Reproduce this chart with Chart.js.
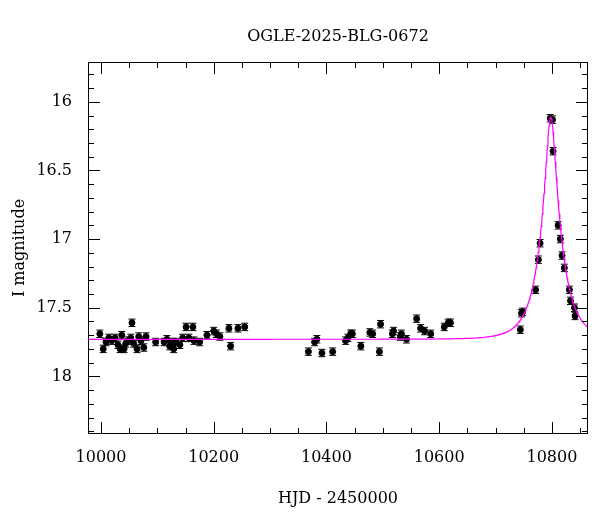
<!DOCTYPE html>
<html><head><meta charset="utf-8">
<script src="https://cdn.jsdelivr.net/npm/chart.js@4/dist/chart.umd.min.js"></script>
<style>html,body{margin:0;background:#fff}#w{width:600px;height:512px}</style>
</head><body><div id="w"><canvas id="c"></canvas></div>
<script>
const hjd = [9998,10004,10009,10014,10019,10025,10030,10034,10037,10041,10044,10048,10053,10055,10058,10064,10067,10071,10076,10080,10097,10112,10117,10122,10126,10129,10133,10140,10145,10151,10156,10163,10165,10175,10188,10200,10205,10211,10227,10230,10243,10255,
10368,10379,10383,10392,10411,10434,10438,10443,10446,10461,10477,10482,10494,10496,10517,10519,10531,10533,10542,10560,10567,10574,10585,10609,10616,10620,
10744,10746,10748,10771,10776,10779,10797,10801,10802,10811,10815,10818,10822,10831,10833,10840,10841];
const imag = [17.69,17.80,17.75,17.72,17.74,17.72,17.77,17.80,17.70,17.80,17.76,17.74,17.72,17.61,17.76,17.80,17.71,17.74,17.79,17.71,17.75,17.75,17.73,17.78,17.75,17.80,17.75,17.77,17.72,17.64,17.72,17.64,17.74,17.75,17.70,17.67,17.69,17.71,17.65,17.78,17.65,17.64,
17.82,17.75,17.73,17.83,17.82,17.74,17.72,17.69,17.69,17.78,17.68,17.69,17.82,17.62,17.69,17.67,17.71,17.69,17.73,17.58,17.65,17.67,17.69,17.64,17.61,17.61,
17.66,17.54,17.53,17.37,17.15,17.03,16.12,16.13,16.36,16.90,17.00,17.12,17.21,17.37,17.45,17.50,17.56];
const magErr = 0.027;
// PSPL model parameters (fitted by eye)
const t0 = 10798, u0 = 0.23, tE = 37, baseMag = 17.73;
const xTickMajor = 200, xTickMinor = 50, yTickMajor = 0.5, yTickMinor = 0.1;

const model = [];
for (let t = 9977; t <= 10864; t += 1) {
  const u = Math.sqrt(u0*u0 + ((t-t0)/tE)**2);
  const A = (u*u+2)/(u*Math.sqrt(u*u+4));
  model.push({x:t, y: baseMag - 2.5*Math.log10(A)});
}
const pts = hjd.map((x,i)=>({x, y: imag[i]}));
const FONT = "'DejaVu Serif', serif";

const deco = {
  id:'deco',
  beforeDatasetsDraw(ch){
    const c=ch.ctx, xs=ch.scales.x, ys=ch.scales.y;
    c.save(); c.strokeStyle='#000'; c.lineWidth=1;
    pts.forEach(p=>{
      const px=xs.getPixelForValue(p.x), a=ys.getPixelForValue(p.y-magErr), b=ys.getPixelForValue(p.y+magErr);
      c.beginPath(); c.moveTo(px,a); c.lineTo(px,b);
      c.moveTo(px-3.5,a); c.lineTo(px+3.5,a); c.moveTo(px-3.5,b); c.lineTo(px+3.5,b); c.stroke();
    });
    c.restore();
  },
  afterDraw(ch){
    const c=ch.ctx, xs=ch.scales.x, ys=ch.scales.y, A=ch.chartArea;
    c.save(); c.strokeStyle='#000'; c.lineWidth=1;
    c.strokeRect(A.left+0.5,A.top+0.5,A.right-A.left-1,A.bottom-A.top-1);
    c.beginPath();
    for(let v=Math.ceil(xs.min/xTickMinor)*xTickMinor; v<=xs.max; v+=xTickMinor){
      const px=Math.round(xs.getPixelForValue(v))+0.5, L=(v%xTickMajor===0)?12:6;
      c.moveTo(px,A.bottom); c.lineTo(px,A.bottom-L); c.moveTo(px,A.top); c.lineTo(px,A.top+L);
    }
    for(let k=Math.ceil(ys.min/yTickMinor-1e-6); k*yTickMinor<=ys.max+1e-9; k++){
      const v=k*yTickMinor, py=Math.round(ys.getPixelForValue(v))+0.5, L=(k%5===0)?12:6;
      c.moveTo(A.left,py); c.lineTo(A.left+L,py); c.moveTo(A.right,py); c.lineTo(A.right-L,py);
    }
    c.stroke();
    c.fillStyle='#000'; c.font='16px '+FONT; c.textAlign='center';
    c.fillText('OGLE-2025-BLG-0672',(A.left+A.right)/2,41);
    c.restore();
  }
};

new Chart(document.getElementById('c'),{
  data:{datasets:[
    {type:'scatter',data:pts,pointRadius:3,pointBackgroundColor:'#000',pointBorderColor:'#000',order:2},
    {type:'line',data:model,borderColor:'#ff00ff',borderWidth:1.2,pointRadius:0,tension:0,order:1}
  ]},
  options:{responsive:true,maintainAspectRatio:false,animation:false,
    layout:{padding:{top:62,right:12,left:0,bottom:0}},
    plugins:{legend:{display:false},tooltip:{enabled:false}},
    scales:{
      x:{type:'linear',min:9977,max:10864,
        afterBuildTicks(s){s.ticks=[10000,10200,10400,10600,10800].map(v=>({value:v}));},
        afterFit(s){s.height=78;},
        grid:{display:false},border:{display:false},
        ticks:{color:'#000',font:{family:FONT,size:16},padding:6,maxRotation:0,callback:v=>String(v)},
        title:{display:true,text:'HJD - 2450000',color:'#000',font:{family:FONT,size:16},padding:{top:0}}},
      y:{type:'linear',min:15.71,max:18.42,reverse:true,
        afterBuildTicks(s){s.ticks=[16,16.5,17,17.5,18].map(v=>({value:v}));},
        afterFit(s){s.width=88;},
        grid:{display:false},border:{display:false},
        ticks:{color:'#000',font:{family:FONT,size:16},padding:8,callback:v=>String(v)},
        title:{display:true,text:'I magnitude',color:'#000',font:{family:FONT,size:16},padding:{top:10,bottom:0}}}
    }
  },
  plugins:[deco]
});
</script></body></html>
